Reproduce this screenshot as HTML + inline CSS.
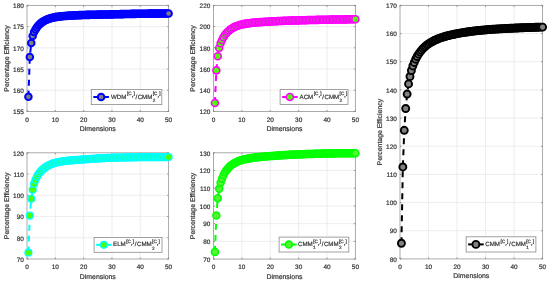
<!DOCTYPE html>
<html lang="en"><head><meta charset="utf-8"><title>Percentage Efficiency vs Dimensions</title>
<style>html,body{margin:0;padding:0;background:#fff;}body{width:550px;height:282px;overflow:hidden;}svg{display:block;will-change:transform;filter:blur(0.3px);}text{font-family:"Liberation Sans", sans-serif;fill:#3a3a3a;stroke:#3a3a3a;stroke-width:0.22px;text-rendering:geometricPrecision;}</style></head><body>
<svg width="550" height="282" viewBox="0 0 550 282">
<rect x="0" y="0" width="550" height="282" fill="#ffffff"/>
<g>
<path d="M55.32 5.40V111.50M83.64 5.40V111.50M111.96 5.40V111.50M140.28 5.40V111.50M27.00 90.28H168.60M27.00 69.06H168.60M27.00 47.84H168.60M27.00 26.62H168.60" stroke="#e9e9e9" stroke-width="0.8" fill="none"/>
<rect x="27.00" y="5.40" width="141.60" height="106.10" fill="none" stroke="#a2a2a2" stroke-width="0.9"/>
<path d="M27.00 111.50v-1.50M27.00 5.40v1.50M55.32 111.50v-1.50M55.32 5.40v1.50M83.64 111.50v-1.50M83.64 5.40v1.50M111.96 111.50v-1.50M111.96 5.40v1.50M140.28 111.50v-1.50M140.28 5.40v1.50M168.60 111.50v-1.50M168.60 5.40v1.50M27.00 111.50h1.50M168.60 111.50h-1.50M27.00 90.28h1.50M168.60 90.28h-1.50M27.00 69.06h1.50M168.60 69.06h-1.50M27.00 47.84h1.50M168.60 47.84h-1.50M27.00 26.62h1.50M168.60 26.62h-1.50M27.00 5.40h1.50M168.60 5.40h-1.50" stroke="#808080" stroke-width="0.8" fill="none"/>
<text x="27.00" y="121.80" font-size="6.45" text-anchor="middle">0</text>
<text x="55.32" y="121.80" font-size="6.45" text-anchor="middle">10</text>
<text x="83.64" y="121.80" font-size="6.45" text-anchor="middle">20</text>
<text x="111.96" y="121.80" font-size="6.45" text-anchor="middle">30</text>
<text x="140.28" y="121.80" font-size="6.45" text-anchor="middle">40</text>
<text x="168.60" y="121.80" font-size="6.45" text-anchor="middle">50</text>
<text x="23.80" y="114.25" font-size="6.45" text-anchor="end">155</text>
<text x="23.80" y="93.03" font-size="6.45" text-anchor="end">160</text>
<text x="23.80" y="71.81" font-size="6.45" text-anchor="end">165</text>
<text x="23.80" y="50.59" font-size="6.45" text-anchor="end">170</text>
<text x="23.80" y="29.37" font-size="6.45" text-anchor="end">175</text>
<text x="23.80" y="8.15" font-size="6.45" text-anchor="end">180</text>
<text x="97.80" y="131.00" font-size="6.90" text-anchor="middle">Dimensions</text>
<text transform="translate(8.50 58.45) rotate(-90)" font-size="6.90" text-anchor="middle">Percentage Efficiency</text>
<polyline points="28.42,96.68 29.83,57.07 31.25,43.03 32.66,35.95 34.08,32.05 35.50,29.56 36.91,27.34 38.33,25.57 39.74,24.11 41.16,22.90 42.58,21.87 43.99,20.99 45.41,20.24 46.82,19.59 48.24,19.03 49.66,18.54 51.07,18.12 52.49,17.75 53.90,17.43 55.32,17.15 56.74,16.91 58.15,16.69 59.57,16.51 60.98,16.34 62.40,16.20 63.82,16.06 65.23,15.94 66.65,15.84 68.06,15.74 69.48,15.65 70.90,15.56 72.31,15.49 73.73,15.42 75.14,15.35 76.56,15.28 77.98,15.22 79.39,15.17 80.81,15.11 82.22,15.06 83.64,15.01 85.06,14.96 86.47,14.91 87.89,14.87 89.30,14.84 90.72,14.80 92.14,14.77 93.55,14.74 94.97,14.71 96.38,14.68 97.80,14.65 99.22,14.63 100.63,14.60 102.05,14.57 103.46,14.54 104.88,14.51 106.30,14.49 107.71,14.46 109.13,14.43 110.54,14.39 111.96,14.36 113.38,14.33 114.79,14.30 116.21,14.26 117.62,14.23 119.04,14.19 120.46,14.16 121.87,14.12 123.29,14.09 124.70,14.06 126.12,14.03 127.54,13.99 128.95,13.96 130.37,13.94 131.78,13.91 133.20,13.88 134.62,13.86 136.03,13.83 137.45,13.81 138.86,13.79 140.28,13.77 141.70,13.75 143.11,13.73 144.53,13.71 145.94,13.70 147.36,13.68 148.78,13.67 150.19,13.65 151.61,13.64 153.02,13.63 154.44,13.62 155.86,13.60 157.27,13.59 158.69,13.58 160.10,13.57 161.52,13.56 162.94,13.56 164.35,13.55 165.77,13.54 167.18,13.53 168.60,13.53" fill="none" stroke="#0000ff" stroke-width="2" stroke-dasharray="6 5"/>
<g fill="#808080" stroke="#0000ff" stroke-width="2.00">
<circle cx="28.42" cy="96.68" r="3.30"/>
<circle cx="29.83" cy="57.07" r="3.30"/>
<circle cx="31.25" cy="43.03" r="3.30"/>
<circle cx="32.66" cy="35.95" r="3.30"/>
<circle cx="34.08" cy="32.05" r="3.30"/>
<circle cx="35.50" cy="29.56" r="3.30"/>
<circle cx="36.91" cy="27.34" r="3.30"/>
<circle cx="38.33" cy="25.57" r="3.30"/>
<circle cx="39.74" cy="24.11" r="3.30"/>
<circle cx="41.16" cy="22.90" r="3.30"/>
<circle cx="42.58" cy="21.87" r="3.30"/>
<circle cx="43.99" cy="20.99" r="3.30"/>
<circle cx="45.41" cy="20.24" r="3.30"/>
<circle cx="46.82" cy="19.59" r="3.30"/>
<circle cx="48.24" cy="19.03" r="3.30"/>
<circle cx="49.66" cy="18.54" r="3.30"/>
<circle cx="51.07" cy="18.12" r="3.30"/>
<circle cx="52.49" cy="17.75" r="3.30"/>
<circle cx="53.90" cy="17.43" r="3.30"/>
<circle cx="55.32" cy="17.15" r="3.30"/>
<circle cx="56.74" cy="16.91" r="3.30"/>
<circle cx="58.15" cy="16.69" r="3.30"/>
<circle cx="59.57" cy="16.51" r="3.30"/>
<circle cx="60.98" cy="16.34" r="3.30"/>
<circle cx="62.40" cy="16.20" r="3.30"/>
<circle cx="63.82" cy="16.06" r="3.30"/>
<circle cx="65.23" cy="15.94" r="3.30"/>
<circle cx="66.65" cy="15.84" r="3.30"/>
<circle cx="68.06" cy="15.74" r="3.30"/>
<circle cx="69.48" cy="15.65" r="3.30"/>
<circle cx="70.90" cy="15.56" r="3.30"/>
<circle cx="72.31" cy="15.49" r="3.30"/>
<circle cx="73.73" cy="15.42" r="3.30"/>
<circle cx="75.14" cy="15.35" r="3.30"/>
<circle cx="76.56" cy="15.28" r="3.30"/>
<circle cx="77.98" cy="15.22" r="3.30"/>
<circle cx="79.39" cy="15.17" r="3.30"/>
<circle cx="80.81" cy="15.11" r="3.30"/>
<circle cx="82.22" cy="15.06" r="3.30"/>
<circle cx="83.64" cy="15.01" r="3.30"/>
<circle cx="85.06" cy="14.96" r="3.30"/>
<circle cx="86.47" cy="14.91" r="3.30"/>
<circle cx="87.89" cy="14.87" r="3.30"/>
<circle cx="89.30" cy="14.84" r="3.30"/>
<circle cx="90.72" cy="14.80" r="3.30"/>
<circle cx="92.14" cy="14.77" r="3.30"/>
<circle cx="93.55" cy="14.74" r="3.30"/>
<circle cx="94.97" cy="14.71" r="3.30"/>
<circle cx="96.38" cy="14.68" r="3.30"/>
<circle cx="97.80" cy="14.65" r="3.30"/>
<circle cx="99.22" cy="14.63" r="3.30"/>
<circle cx="100.63" cy="14.60" r="3.30"/>
<circle cx="102.05" cy="14.57" r="3.30"/>
<circle cx="103.46" cy="14.54" r="3.30"/>
<circle cx="104.88" cy="14.51" r="3.30"/>
<circle cx="106.30" cy="14.49" r="3.30"/>
<circle cx="107.71" cy="14.46" r="3.30"/>
<circle cx="109.13" cy="14.43" r="3.30"/>
<circle cx="110.54" cy="14.39" r="3.30"/>
<circle cx="111.96" cy="14.36" r="3.30"/>
<circle cx="113.38" cy="14.33" r="3.30"/>
<circle cx="114.79" cy="14.30" r="3.30"/>
<circle cx="116.21" cy="14.26" r="3.30"/>
<circle cx="117.62" cy="14.23" r="3.30"/>
<circle cx="119.04" cy="14.19" r="3.30"/>
<circle cx="120.46" cy="14.16" r="3.30"/>
<circle cx="121.87" cy="14.12" r="3.30"/>
<circle cx="123.29" cy="14.09" r="3.30"/>
<circle cx="124.70" cy="14.06" r="3.30"/>
<circle cx="126.12" cy="14.03" r="3.30"/>
<circle cx="127.54" cy="13.99" r="3.30"/>
<circle cx="128.95" cy="13.96" r="3.30"/>
<circle cx="130.37" cy="13.94" r="3.30"/>
<circle cx="131.78" cy="13.91" r="3.30"/>
<circle cx="133.20" cy="13.88" r="3.30"/>
<circle cx="134.62" cy="13.86" r="3.30"/>
<circle cx="136.03" cy="13.83" r="3.30"/>
<circle cx="137.45" cy="13.81" r="3.30"/>
<circle cx="138.86" cy="13.79" r="3.30"/>
<circle cx="140.28" cy="13.77" r="3.30"/>
<circle cx="141.70" cy="13.75" r="3.30"/>
<circle cx="143.11" cy="13.73" r="3.30"/>
<circle cx="144.53" cy="13.71" r="3.30"/>
<circle cx="145.94" cy="13.70" r="3.30"/>
<circle cx="147.36" cy="13.68" r="3.30"/>
<circle cx="148.78" cy="13.67" r="3.30"/>
<circle cx="150.19" cy="13.65" r="3.30"/>
<circle cx="151.61" cy="13.64" r="3.30"/>
<circle cx="153.02" cy="13.63" r="3.30"/>
<circle cx="154.44" cy="13.62" r="3.30"/>
<circle cx="155.86" cy="13.60" r="3.30"/>
<circle cx="157.27" cy="13.59" r="3.30"/>
<circle cx="158.69" cy="13.58" r="3.30"/>
<circle cx="160.10" cy="13.57" r="3.30"/>
<circle cx="161.52" cy="13.56" r="3.30"/>
<circle cx="162.94" cy="13.56" r="3.30"/>
<circle cx="164.35" cy="13.55" r="3.30"/>
<circle cx="165.77" cy="13.54" r="3.30"/>
<circle cx="167.18" cy="13.53" r="3.30"/>
<circle cx="168.60" cy="13.53" r="3.30"/>
</g>
<rect x="91.30" y="89.40" width="70.50" height="15.20" fill="#ffffff" stroke="#8a8a8a" stroke-width="0.8"/>
<line x1="93.30" y1="97.00" x2="108.90" y2="97.00" stroke="#0000ff" stroke-width="2"/>
<circle cx="101.10" cy="97.00" r="3.30" fill="#808080" stroke="#0000ff" stroke-width="2.00"/>
<text x="111.05" y="98.60" font-size="6.15" fill="#1a1a1a" stroke="#1a1a1a" stroke-width="0.2">WDM<tspan font-size="4.70" dx="0.5" dy="-3.2">[C</tspan><tspan font-size="3.6" dx="0.3" dy="2.9">r</tspan><tspan font-size="4.70" dx="0.3" dy="-2.9">]</tspan><tspan dx="0.75" dy="3.2">/</tspan><tspan dx="0.5">CMM</tspan><tspan font-size="4.70" dx="0.3" dy="3.1">2</tspan><tspan font-size="4.70" dy="-6.3" dx="-2.5">[C</tspan><tspan font-size="3.6" dx="0.3" dy="2.9">r</tspan><tspan font-size="4.70" dx="0.3" dy="-2.9">]</tspan></text>
</g>
<g>
<path d="M241.88 5.40V111.50M270.26 5.40V111.50M298.64 5.40V111.50M327.02 5.40V111.50M213.50 90.28H355.40M213.50 69.06H355.40M213.50 47.84H355.40M213.50 26.62H355.40" stroke="#e9e9e9" stroke-width="0.8" fill="none"/>
<rect x="213.50" y="5.40" width="141.90" height="106.10" fill="none" stroke="#a2a2a2" stroke-width="0.9"/>
<path d="M213.50 111.50v-1.50M213.50 5.40v1.50M241.88 111.50v-1.50M241.88 5.40v1.50M270.26 111.50v-1.50M270.26 5.40v1.50M298.64 111.50v-1.50M298.64 5.40v1.50M327.02 111.50v-1.50M327.02 5.40v1.50M355.40 111.50v-1.50M355.40 5.40v1.50M213.50 111.50h1.50M355.40 111.50h-1.50M213.50 90.28h1.50M355.40 90.28h-1.50M213.50 69.06h1.50M355.40 69.06h-1.50M213.50 47.84h1.50M355.40 47.84h-1.50M213.50 26.62h1.50M355.40 26.62h-1.50M213.50 5.40h1.50M355.40 5.40h-1.50" stroke="#808080" stroke-width="0.8" fill="none"/>
<text x="213.50" y="121.80" font-size="6.45" text-anchor="middle">0</text>
<text x="241.88" y="121.80" font-size="6.45" text-anchor="middle">10</text>
<text x="270.26" y="121.80" font-size="6.45" text-anchor="middle">20</text>
<text x="298.64" y="121.80" font-size="6.45" text-anchor="middle">30</text>
<text x="327.02" y="121.80" font-size="6.45" text-anchor="middle">40</text>
<text x="355.40" y="121.80" font-size="6.45" text-anchor="middle">50</text>
<text x="210.30" y="114.25" font-size="6.45" text-anchor="end">120</text>
<text x="210.30" y="93.03" font-size="6.45" text-anchor="end">140</text>
<text x="210.30" y="71.81" font-size="6.45" text-anchor="end">160</text>
<text x="210.30" y="50.59" font-size="6.45" text-anchor="end">180</text>
<text x="210.30" y="29.37" font-size="6.45" text-anchor="end">200</text>
<text x="210.30" y="8.15" font-size="6.45" text-anchor="end">220</text>
<text x="284.45" y="131.00" font-size="6.90" text-anchor="middle">Dimensions</text>
<text transform="translate(195.00 58.45) rotate(-90)" font-size="6.90" text-anchor="middle">Percentage Efficiency</text>
<polyline points="214.92,103.00 216.34,70.37 217.76,56.16 219.18,48.04 220.59,43.29 222.01,39.97 223.43,37.22 224.85,35.01 226.27,33.20 227.69,31.70 229.11,30.42 230.53,29.34 231.95,28.40 233.37,27.59 234.78,26.88 236.20,26.27 237.62,25.72 239.04,25.25 240.46,24.83 241.88,24.46 243.30,24.14 244.72,23.86 246.14,23.61 247.56,23.39 248.97,23.19 250.39,23.01 251.81,22.85 253.23,22.70 254.65,22.57 256.07,22.44 257.49,22.32 258.91,22.21 260.33,22.11 261.75,22.01 263.16,21.92 264.58,21.83 266.00,21.74 267.42,21.65 268.84,21.57 270.26,21.49 271.68,21.41 273.10,21.34 274.52,21.26 275.94,21.20 277.36,21.13 278.77,21.07 280.19,21.01 281.61,20.95 283.03,20.89 284.45,20.84 285.87,20.79 287.29,20.74 288.71,20.69 290.13,20.64 291.54,20.59 292.96,20.54 294.38,20.50 295.80,20.45 297.22,20.40 298.64,20.36 300.06,20.32 301.48,20.27 302.90,20.23 304.32,20.19 305.74,20.15 307.15,20.12 308.57,20.08 309.99,20.04 311.41,20.01 312.83,19.97 314.25,19.94 315.67,19.91 317.09,19.88 318.51,19.85 319.92,19.82 321.34,19.79 322.76,19.76 324.18,19.73 325.60,19.70 327.02,19.68 328.44,19.65 329.86,19.63 331.28,19.60 332.70,19.58 334.12,19.55 335.53,19.53 336.95,19.51 338.37,19.49 339.79,19.46 341.21,19.44 342.63,19.42 344.05,19.40 345.47,19.38 346.89,19.36 348.30,19.34 349.72,19.33 351.14,19.31 352.56,19.29 353.98,19.27 355.40,19.26" fill="none" stroke="#ff00ff" stroke-width="2" stroke-dasharray="6 5"/>
<g fill="#4dff00" stroke="#ff00ff" stroke-width="1.55">
<circle cx="214.92" cy="103.00" r="3.50"/>
<circle cx="216.34" cy="70.37" r="3.50"/>
<circle cx="217.76" cy="56.16" r="3.50"/>
<circle cx="219.18" cy="48.04" r="3.50"/>
<circle cx="220.59" cy="43.29" r="3.50"/>
<circle cx="222.01" cy="39.97" r="3.50"/>
<circle cx="223.43" cy="37.22" r="3.50"/>
<circle cx="224.85" cy="35.01" r="3.50"/>
<circle cx="226.27" cy="33.20" r="3.50"/>
<circle cx="227.69" cy="31.70" r="3.50"/>
<circle cx="229.11" cy="30.42" r="3.50"/>
<circle cx="230.53" cy="29.34" r="3.50"/>
<circle cx="231.95" cy="28.40" r="3.50"/>
<circle cx="233.37" cy="27.59" r="3.50"/>
<circle cx="234.78" cy="26.88" r="3.50"/>
<circle cx="236.20" cy="26.27" r="3.50"/>
<circle cx="237.62" cy="25.72" r="3.50"/>
<circle cx="239.04" cy="25.25" r="3.50"/>
<circle cx="240.46" cy="24.83" r="3.50"/>
<circle cx="241.88" cy="24.46" r="3.50"/>
<circle cx="243.30" cy="24.14" r="3.50"/>
<circle cx="244.72" cy="23.86" r="3.50"/>
<circle cx="246.14" cy="23.61" r="3.50"/>
<circle cx="247.56" cy="23.39" r="3.50"/>
<circle cx="248.97" cy="23.19" r="3.50"/>
<circle cx="250.39" cy="23.01" r="3.50"/>
<circle cx="251.81" cy="22.85" r="3.50"/>
<circle cx="253.23" cy="22.70" r="3.50"/>
<circle cx="254.65" cy="22.57" r="3.50"/>
<circle cx="256.07" cy="22.44" r="3.50"/>
<circle cx="257.49" cy="22.32" r="3.50"/>
<circle cx="258.91" cy="22.21" r="3.50"/>
<circle cx="260.33" cy="22.11" r="3.50"/>
<circle cx="261.75" cy="22.01" r="3.50"/>
<circle cx="263.16" cy="21.92" r="3.50"/>
<circle cx="264.58" cy="21.83" r="3.50"/>
<circle cx="266.00" cy="21.74" r="3.50"/>
<circle cx="267.42" cy="21.65" r="3.50"/>
<circle cx="268.84" cy="21.57" r="3.50"/>
<circle cx="270.26" cy="21.49" r="3.50"/>
<circle cx="271.68" cy="21.41" r="3.50"/>
<circle cx="273.10" cy="21.34" r="3.50"/>
<circle cx="274.52" cy="21.26" r="3.50"/>
<circle cx="275.94" cy="21.20" r="3.50"/>
<circle cx="277.36" cy="21.13" r="3.50"/>
<circle cx="278.77" cy="21.07" r="3.50"/>
<circle cx="280.19" cy="21.01" r="3.50"/>
<circle cx="281.61" cy="20.95" r="3.50"/>
<circle cx="283.03" cy="20.89" r="3.50"/>
<circle cx="284.45" cy="20.84" r="3.50"/>
<circle cx="285.87" cy="20.79" r="3.50"/>
<circle cx="287.29" cy="20.74" r="3.50"/>
<circle cx="288.71" cy="20.69" r="3.50"/>
<circle cx="290.13" cy="20.64" r="3.50"/>
<circle cx="291.54" cy="20.59" r="3.50"/>
<circle cx="292.96" cy="20.54" r="3.50"/>
<circle cx="294.38" cy="20.50" r="3.50"/>
<circle cx="295.80" cy="20.45" r="3.50"/>
<circle cx="297.22" cy="20.40" r="3.50"/>
<circle cx="298.64" cy="20.36" r="3.50"/>
<circle cx="300.06" cy="20.32" r="3.50"/>
<circle cx="301.48" cy="20.27" r="3.50"/>
<circle cx="302.90" cy="20.23" r="3.50"/>
<circle cx="304.32" cy="20.19" r="3.50"/>
<circle cx="305.74" cy="20.15" r="3.50"/>
<circle cx="307.15" cy="20.12" r="3.50"/>
<circle cx="308.57" cy="20.08" r="3.50"/>
<circle cx="309.99" cy="20.04" r="3.50"/>
<circle cx="311.41" cy="20.01" r="3.50"/>
<circle cx="312.83" cy="19.97" r="3.50"/>
<circle cx="314.25" cy="19.94" r="3.50"/>
<circle cx="315.67" cy="19.91" r="3.50"/>
<circle cx="317.09" cy="19.88" r="3.50"/>
<circle cx="318.51" cy="19.85" r="3.50"/>
<circle cx="319.92" cy="19.82" r="3.50"/>
<circle cx="321.34" cy="19.79" r="3.50"/>
<circle cx="322.76" cy="19.76" r="3.50"/>
<circle cx="324.18" cy="19.73" r="3.50"/>
<circle cx="325.60" cy="19.70" r="3.50"/>
<circle cx="327.02" cy="19.68" r="3.50"/>
<circle cx="328.44" cy="19.65" r="3.50"/>
<circle cx="329.86" cy="19.63" r="3.50"/>
<circle cx="331.28" cy="19.60" r="3.50"/>
<circle cx="332.70" cy="19.58" r="3.50"/>
<circle cx="334.12" cy="19.55" r="3.50"/>
<circle cx="335.53" cy="19.53" r="3.50"/>
<circle cx="336.95" cy="19.51" r="3.50"/>
<circle cx="338.37" cy="19.49" r="3.50"/>
<circle cx="339.79" cy="19.46" r="3.50"/>
<circle cx="341.21" cy="19.44" r="3.50"/>
<circle cx="342.63" cy="19.42" r="3.50"/>
<circle cx="344.05" cy="19.40" r="3.50"/>
<circle cx="345.47" cy="19.38" r="3.50"/>
<circle cx="346.89" cy="19.36" r="3.50"/>
<circle cx="348.30" cy="19.34" r="3.50"/>
<circle cx="349.72" cy="19.33" r="3.50"/>
<circle cx="351.14" cy="19.31" r="3.50"/>
<circle cx="352.56" cy="19.29" r="3.50"/>
<circle cx="353.98" cy="19.27" r="3.50"/>
<circle cx="355.40" cy="19.26" r="3.50"/>
</g>
<rect x="280.10" y="89.60" width="67.90" height="14.90" fill="#ffffff" stroke="#8a8a8a" stroke-width="0.8"/>
<line x1="282.10" y1="97.05" x2="297.70" y2="97.05" stroke="#ff00ff" stroke-width="2"/>
<circle cx="289.90" cy="97.05" r="3.50" fill="#4dff00" stroke="#ff00ff" stroke-width="1.55"/>
<text x="299.60" y="98.65" font-size="6.15" fill="#1a1a1a" stroke="#1a1a1a" stroke-width="0.2">ACM<tspan font-size="4.70" dx="0.5" dy="-3.2">[C</tspan><tspan font-size="3.6" dx="0.3" dy="2.9">r</tspan><tspan font-size="4.70" dx="0.3" dy="-2.9">]</tspan><tspan dx="0.75" dy="3.2">/</tspan><tspan dx="0.5">CMM</tspan><tspan font-size="4.70" dx="0.3" dy="3.1">2</tspan><tspan font-size="4.70" dy="-6.3" dx="-2.5">[C</tspan><tspan font-size="3.6" dx="0.3" dy="2.9">r</tspan><tspan font-size="4.70" dx="0.3" dy="-2.9">]</tspan></text>
</g>
<g>
<path d="M55.32 152.80V259.00M83.64 152.80V259.00M111.96 152.80V259.00M140.28 152.80V259.00M27.00 237.76H168.60M27.00 216.52H168.60M27.00 195.28H168.60M27.00 174.04H168.60" stroke="#e9e9e9" stroke-width="0.8" fill="none"/>
<rect x="27.00" y="152.80" width="141.60" height="106.20" fill="none" stroke="#a2a2a2" stroke-width="0.9"/>
<path d="M27.00 259.00v-1.50M27.00 152.80v1.50M55.32 259.00v-1.50M55.32 152.80v1.50M83.64 259.00v-1.50M83.64 152.80v1.50M111.96 259.00v-1.50M111.96 152.80v1.50M140.28 259.00v-1.50M140.28 152.80v1.50M168.60 259.00v-1.50M168.60 152.80v1.50M27.00 259.00h1.50M168.60 259.00h-1.50M27.00 237.76h1.50M168.60 237.76h-1.50M27.00 216.52h1.50M168.60 216.52h-1.50M27.00 195.28h1.50M168.60 195.28h-1.50M27.00 174.04h1.50M168.60 174.04h-1.50M27.00 152.80h1.50M168.60 152.80h-1.50" stroke="#808080" stroke-width="0.8" fill="none"/>
<text x="27.00" y="269.30" font-size="6.45" text-anchor="middle">0</text>
<text x="55.32" y="269.30" font-size="6.45" text-anchor="middle">10</text>
<text x="83.64" y="269.30" font-size="6.45" text-anchor="middle">20</text>
<text x="111.96" y="269.30" font-size="6.45" text-anchor="middle">30</text>
<text x="140.28" y="269.30" font-size="6.45" text-anchor="middle">40</text>
<text x="168.60" y="269.30" font-size="6.45" text-anchor="middle">50</text>
<text x="23.80" y="261.75" font-size="6.45" text-anchor="end">70</text>
<text x="23.80" y="240.51" font-size="6.45" text-anchor="end">80</text>
<text x="23.80" y="219.27" font-size="6.45" text-anchor="end">90</text>
<text x="23.80" y="198.03" font-size="6.45" text-anchor="end">100</text>
<text x="23.80" y="176.79" font-size="6.45" text-anchor="end">110</text>
<text x="23.80" y="155.55" font-size="6.45" text-anchor="end">120</text>
<text x="97.80" y="278.50" font-size="6.90" text-anchor="middle">Dimensions</text>
<text transform="translate(8.50 205.90) rotate(-90)" font-size="6.90" text-anchor="middle">Percentage Efficiency</text>
<polyline points="28.42,252.65 29.83,215.53 31.25,198.79 32.66,189.77 34.08,183.81 35.50,179.88 36.91,176.78 38.33,174.40 39.74,172.50 41.16,170.95 42.58,169.62 43.99,168.43 45.41,167.38 46.82,166.45 48.24,165.62 49.66,164.89 51.07,164.25 52.49,163.70 53.90,163.21 55.32,162.80 56.74,162.44 58.15,162.12 59.57,161.85 60.98,161.61 62.40,161.39 63.82,161.20 65.23,161.02 66.65,160.86 68.06,160.71 69.48,160.57 70.90,160.44 72.31,160.31 73.73,160.20 75.14,160.08 76.56,159.97 77.98,159.86 79.39,159.76 80.81,159.65 82.22,159.55 83.64,159.45 85.06,159.34 86.47,159.24 87.89,159.14 89.30,159.03 90.72,158.93 92.14,158.83 93.55,158.73 94.97,158.63 96.38,158.54 97.80,158.45 99.22,158.36 100.63,158.28 102.05,158.20 103.46,158.13 104.88,158.06 106.30,157.99 107.71,157.93 109.13,157.87 110.54,157.82 111.96,157.77 113.38,157.72 114.79,157.68 116.21,157.64 117.62,157.60 119.04,157.57 120.46,157.54 121.87,157.51 123.29,157.48 124.70,157.46 126.12,157.43 127.54,157.41 128.95,157.39 130.37,157.37 131.78,157.35 133.20,157.33 134.62,157.32 136.03,157.30 137.45,157.28 138.86,157.27 140.28,157.25 141.70,157.24 143.11,157.22 144.53,157.21 145.94,157.20 147.36,157.19 148.78,157.18 150.19,157.17 151.61,157.17 153.02,157.16 154.44,157.15 155.86,157.15 157.27,157.14 158.69,157.14 160.10,157.13 161.52,157.13 162.94,157.13 164.35,157.13 165.77,157.12 167.18,157.12 168.60,157.12" fill="none" stroke="#00ffff" stroke-width="2" stroke-dasharray="6 5"/>
<g fill="#4dff00" stroke="#00ffff" stroke-width="1.40">
<circle cx="28.42" cy="252.65" r="3.40"/>
<circle cx="29.83" cy="215.53" r="3.40"/>
<circle cx="31.25" cy="198.79" r="3.40"/>
<circle cx="32.66" cy="189.77" r="3.40"/>
<circle cx="34.08" cy="183.81" r="3.40"/>
<circle cx="35.50" cy="179.88" r="3.40"/>
<circle cx="36.91" cy="176.78" r="3.40"/>
<circle cx="38.33" cy="174.40" r="3.40"/>
<circle cx="39.74" cy="172.50" r="3.40"/>
<circle cx="41.16" cy="170.95" r="3.40"/>
<circle cx="42.58" cy="169.62" r="3.40"/>
<circle cx="43.99" cy="168.43" r="3.40"/>
<circle cx="45.41" cy="167.38" r="3.40"/>
<circle cx="46.82" cy="166.45" r="3.40"/>
<circle cx="48.24" cy="165.62" r="3.40"/>
<circle cx="49.66" cy="164.89" r="3.40"/>
<circle cx="51.07" cy="164.25" r="3.40"/>
<circle cx="52.49" cy="163.70" r="3.40"/>
<circle cx="53.90" cy="163.21" r="3.40"/>
<circle cx="55.32" cy="162.80" r="3.40"/>
<circle cx="56.74" cy="162.44" r="3.40"/>
<circle cx="58.15" cy="162.12" r="3.40"/>
<circle cx="59.57" cy="161.85" r="3.40"/>
<circle cx="60.98" cy="161.61" r="3.40"/>
<circle cx="62.40" cy="161.39" r="3.40"/>
<circle cx="63.82" cy="161.20" r="3.40"/>
<circle cx="65.23" cy="161.02" r="3.40"/>
<circle cx="66.65" cy="160.86" r="3.40"/>
<circle cx="68.06" cy="160.71" r="3.40"/>
<circle cx="69.48" cy="160.57" r="3.40"/>
<circle cx="70.90" cy="160.44" r="3.40"/>
<circle cx="72.31" cy="160.31" r="3.40"/>
<circle cx="73.73" cy="160.20" r="3.40"/>
<circle cx="75.14" cy="160.08" r="3.40"/>
<circle cx="76.56" cy="159.97" r="3.40"/>
<circle cx="77.98" cy="159.86" r="3.40"/>
<circle cx="79.39" cy="159.76" r="3.40"/>
<circle cx="80.81" cy="159.65" r="3.40"/>
<circle cx="82.22" cy="159.55" r="3.40"/>
<circle cx="83.64" cy="159.45" r="3.40"/>
<circle cx="85.06" cy="159.34" r="3.40"/>
<circle cx="86.47" cy="159.24" r="3.40"/>
<circle cx="87.89" cy="159.14" r="3.40"/>
<circle cx="89.30" cy="159.03" r="3.40"/>
<circle cx="90.72" cy="158.93" r="3.40"/>
<circle cx="92.14" cy="158.83" r="3.40"/>
<circle cx="93.55" cy="158.73" r="3.40"/>
<circle cx="94.97" cy="158.63" r="3.40"/>
<circle cx="96.38" cy="158.54" r="3.40"/>
<circle cx="97.80" cy="158.45" r="3.40"/>
<circle cx="99.22" cy="158.36" r="3.40"/>
<circle cx="100.63" cy="158.28" r="3.40"/>
<circle cx="102.05" cy="158.20" r="3.40"/>
<circle cx="103.46" cy="158.13" r="3.40"/>
<circle cx="104.88" cy="158.06" r="3.40"/>
<circle cx="106.30" cy="157.99" r="3.40"/>
<circle cx="107.71" cy="157.93" r="3.40"/>
<circle cx="109.13" cy="157.87" r="3.40"/>
<circle cx="110.54" cy="157.82" r="3.40"/>
<circle cx="111.96" cy="157.77" r="3.40"/>
<circle cx="113.38" cy="157.72" r="3.40"/>
<circle cx="114.79" cy="157.68" r="3.40"/>
<circle cx="116.21" cy="157.64" r="3.40"/>
<circle cx="117.62" cy="157.60" r="3.40"/>
<circle cx="119.04" cy="157.57" r="3.40"/>
<circle cx="120.46" cy="157.54" r="3.40"/>
<circle cx="121.87" cy="157.51" r="3.40"/>
<circle cx="123.29" cy="157.48" r="3.40"/>
<circle cx="124.70" cy="157.46" r="3.40"/>
<circle cx="126.12" cy="157.43" r="3.40"/>
<circle cx="127.54" cy="157.41" r="3.40"/>
<circle cx="128.95" cy="157.39" r="3.40"/>
<circle cx="130.37" cy="157.37" r="3.40"/>
<circle cx="131.78" cy="157.35" r="3.40"/>
<circle cx="133.20" cy="157.33" r="3.40"/>
<circle cx="134.62" cy="157.32" r="3.40"/>
<circle cx="136.03" cy="157.30" r="3.40"/>
<circle cx="137.45" cy="157.28" r="3.40"/>
<circle cx="138.86" cy="157.27" r="3.40"/>
<circle cx="140.28" cy="157.25" r="3.40"/>
<circle cx="141.70" cy="157.24" r="3.40"/>
<circle cx="143.11" cy="157.22" r="3.40"/>
<circle cx="144.53" cy="157.21" r="3.40"/>
<circle cx="145.94" cy="157.20" r="3.40"/>
<circle cx="147.36" cy="157.19" r="3.40"/>
<circle cx="148.78" cy="157.18" r="3.40"/>
<circle cx="150.19" cy="157.17" r="3.40"/>
<circle cx="151.61" cy="157.17" r="3.40"/>
<circle cx="153.02" cy="157.16" r="3.40"/>
<circle cx="154.44" cy="157.15" r="3.40"/>
<circle cx="155.86" cy="157.15" r="3.40"/>
<circle cx="157.27" cy="157.14" r="3.40"/>
<circle cx="158.69" cy="157.14" r="3.40"/>
<circle cx="160.10" cy="157.13" r="3.40"/>
<circle cx="161.52" cy="157.13" r="3.40"/>
<circle cx="162.94" cy="157.13" r="3.40"/>
<circle cx="164.35" cy="157.13" r="3.40"/>
<circle cx="165.77" cy="157.12" r="3.40"/>
<circle cx="167.18" cy="157.12" r="3.40"/>
<circle cx="168.60" cy="157.12" r="3.40"/>
</g>
<rect x="94.10" y="237.40" width="67.90" height="14.90" fill="#ffffff" stroke="#8a8a8a" stroke-width="0.8"/>
<line x1="96.10" y1="244.85" x2="111.70" y2="244.85" stroke="#00ffff" stroke-width="2"/>
<circle cx="103.90" cy="244.85" r="3.40" fill="#4dff00" stroke="#00ffff" stroke-width="1.40"/>
<text x="113.10" y="246.45" font-size="6.15" fill="#1a1a1a" stroke="#1a1a1a" stroke-width="0.2">ELM<tspan font-size="4.70" dx="0.5" dy="-3.2">[C</tspan><tspan font-size="3.6" dx="0.3" dy="2.9">r</tspan><tspan font-size="4.70" dx="0.3" dy="-2.9">]</tspan><tspan dx="0.75" dy="3.2">/</tspan><tspan dx="0.5">CMM</tspan><tspan font-size="4.70" dx="0.3" dy="3.1">2</tspan><tspan font-size="4.70" dy="-6.3" dx="-2.5">[C</tspan><tspan font-size="3.6" dx="0.3" dy="2.9">r</tspan><tspan font-size="4.70" dx="0.3" dy="-2.9">]</tspan></text>
</g>
<g>
<path d="M241.88 152.80V259.10M270.26 152.80V259.10M298.64 152.80V259.10M327.02 152.80V259.10M213.50 241.38H355.40M213.50 223.67H355.40M213.50 205.95H355.40M213.50 188.23H355.40M213.50 170.52H355.40" stroke="#e9e9e9" stroke-width="0.8" fill="none"/>
<rect x="213.50" y="152.80" width="141.90" height="106.30" fill="none" stroke="#a2a2a2" stroke-width="0.9"/>
<path d="M213.50 259.10v-1.50M213.50 152.80v1.50M241.88 259.10v-1.50M241.88 152.80v1.50M270.26 259.10v-1.50M270.26 152.80v1.50M298.64 259.10v-1.50M298.64 152.80v1.50M327.02 259.10v-1.50M327.02 152.80v1.50M355.40 259.10v-1.50M355.40 152.80v1.50M213.50 259.10h1.50M355.40 259.10h-1.50M213.50 241.38h1.50M355.40 241.38h-1.50M213.50 223.67h1.50M355.40 223.67h-1.50M213.50 205.95h1.50M355.40 205.95h-1.50M213.50 188.23h1.50M355.40 188.23h-1.50M213.50 170.52h1.50M355.40 170.52h-1.50M213.50 152.80h1.50M355.40 152.80h-1.50" stroke="#808080" stroke-width="0.8" fill="none"/>
<text x="213.50" y="269.40" font-size="6.45" text-anchor="middle">0</text>
<text x="241.88" y="269.40" font-size="6.45" text-anchor="middle">10</text>
<text x="270.26" y="269.40" font-size="6.45" text-anchor="middle">20</text>
<text x="298.64" y="269.40" font-size="6.45" text-anchor="middle">30</text>
<text x="327.02" y="269.40" font-size="6.45" text-anchor="middle">40</text>
<text x="355.40" y="269.40" font-size="6.45" text-anchor="middle">50</text>
<text x="210.30" y="261.85" font-size="6.45" text-anchor="end">70</text>
<text x="210.30" y="244.13" font-size="6.45" text-anchor="end">80</text>
<text x="210.30" y="226.42" font-size="6.45" text-anchor="end">90</text>
<text x="210.30" y="208.70" font-size="6.45" text-anchor="end">100</text>
<text x="210.30" y="190.98" font-size="6.45" text-anchor="end">110</text>
<text x="210.30" y="173.27" font-size="6.45" text-anchor="end">120</text>
<text x="210.30" y="155.55" font-size="6.45" text-anchor="end">130</text>
<text x="284.45" y="278.60" font-size="6.90" text-anchor="middle">Dimensions</text>
<text transform="translate(195.00 205.95) rotate(-90)" font-size="6.90" text-anchor="middle">Percentage Efficiency</text>
<polyline points="214.92,251.89 216.34,215.44 217.76,198.15 219.18,188.81 220.59,182.70 222.01,178.64 223.43,175.27 224.85,172.61 226.27,170.44 227.69,168.64 229.11,167.12 230.53,165.83 231.95,164.72 233.37,163.76 234.78,162.92 236.20,162.18 237.62,161.53 239.04,160.95 240.46,160.44 241.88,159.99 243.30,159.59 244.72,159.24 246.14,158.92 247.56,158.64 248.97,158.39 250.39,158.16 251.81,157.96 253.23,157.77 254.65,157.59 256.07,157.42 257.49,157.27 258.91,157.12 260.33,156.98 261.75,156.85 263.16,156.72 264.58,156.59 266.00,156.47 267.42,156.35 268.84,156.23 270.26,156.11 271.68,155.99 273.10,155.88 274.52,155.77 275.94,155.67 277.36,155.57 278.77,155.47 280.19,155.37 281.61,155.28 283.03,155.19 284.45,155.10 285.87,155.02 287.29,154.94 288.71,154.86 290.13,154.78 291.54,154.71 292.96,154.64 294.38,154.58 295.80,154.51 297.22,154.45 298.64,154.39 300.06,154.34 301.48,154.28 302.90,154.23 304.32,154.17 305.74,154.12 307.15,154.08 308.57,154.03 309.99,153.98 311.41,153.94 312.83,153.89 314.25,153.85 315.67,153.81 317.09,153.77 318.51,153.73 319.92,153.69 321.34,153.66 322.76,153.62 324.18,153.59 325.60,153.56 327.02,153.52 328.44,153.49 329.86,153.47 331.28,153.44 332.70,153.41 334.12,153.39 335.53,153.37 336.95,153.35 338.37,153.33 339.79,153.31 341.21,153.29 342.63,153.28 344.05,153.26 345.47,153.25 346.89,153.23 348.30,153.22 349.72,153.21 351.14,153.19 352.56,153.18 353.98,153.17 355.40,153.16" fill="none" stroke="#00ff00" stroke-width="2" stroke-dasharray="6 5"/>
<g fill="#55f533" stroke="#00ff00" stroke-width="1.60">
<circle cx="214.92" cy="251.89" r="3.45"/>
<circle cx="216.34" cy="215.44" r="3.45"/>
<circle cx="217.76" cy="198.15" r="3.45"/>
<circle cx="219.18" cy="188.81" r="3.45"/>
<circle cx="220.59" cy="182.70" r="3.45"/>
<circle cx="222.01" cy="178.64" r="3.45"/>
<circle cx="223.43" cy="175.27" r="3.45"/>
<circle cx="224.85" cy="172.61" r="3.45"/>
<circle cx="226.27" cy="170.44" r="3.45"/>
<circle cx="227.69" cy="168.64" r="3.45"/>
<circle cx="229.11" cy="167.12" r="3.45"/>
<circle cx="230.53" cy="165.83" r="3.45"/>
<circle cx="231.95" cy="164.72" r="3.45"/>
<circle cx="233.37" cy="163.76" r="3.45"/>
<circle cx="234.78" cy="162.92" r="3.45"/>
<circle cx="236.20" cy="162.18" r="3.45"/>
<circle cx="237.62" cy="161.53" r="3.45"/>
<circle cx="239.04" cy="160.95" r="3.45"/>
<circle cx="240.46" cy="160.44" r="3.45"/>
<circle cx="241.88" cy="159.99" r="3.45"/>
<circle cx="243.30" cy="159.59" r="3.45"/>
<circle cx="244.72" cy="159.24" r="3.45"/>
<circle cx="246.14" cy="158.92" r="3.45"/>
<circle cx="247.56" cy="158.64" r="3.45"/>
<circle cx="248.97" cy="158.39" r="3.45"/>
<circle cx="250.39" cy="158.16" r="3.45"/>
<circle cx="251.81" cy="157.96" r="3.45"/>
<circle cx="253.23" cy="157.77" r="3.45"/>
<circle cx="254.65" cy="157.59" r="3.45"/>
<circle cx="256.07" cy="157.42" r="3.45"/>
<circle cx="257.49" cy="157.27" r="3.45"/>
<circle cx="258.91" cy="157.12" r="3.45"/>
<circle cx="260.33" cy="156.98" r="3.45"/>
<circle cx="261.75" cy="156.85" r="3.45"/>
<circle cx="263.16" cy="156.72" r="3.45"/>
<circle cx="264.58" cy="156.59" r="3.45"/>
<circle cx="266.00" cy="156.47" r="3.45"/>
<circle cx="267.42" cy="156.35" r="3.45"/>
<circle cx="268.84" cy="156.23" r="3.45"/>
<circle cx="270.26" cy="156.11" r="3.45"/>
<circle cx="271.68" cy="155.99" r="3.45"/>
<circle cx="273.10" cy="155.88" r="3.45"/>
<circle cx="274.52" cy="155.77" r="3.45"/>
<circle cx="275.94" cy="155.67" r="3.45"/>
<circle cx="277.36" cy="155.57" r="3.45"/>
<circle cx="278.77" cy="155.47" r="3.45"/>
<circle cx="280.19" cy="155.37" r="3.45"/>
<circle cx="281.61" cy="155.28" r="3.45"/>
<circle cx="283.03" cy="155.19" r="3.45"/>
<circle cx="284.45" cy="155.10" r="3.45"/>
<circle cx="285.87" cy="155.02" r="3.45"/>
<circle cx="287.29" cy="154.94" r="3.45"/>
<circle cx="288.71" cy="154.86" r="3.45"/>
<circle cx="290.13" cy="154.78" r="3.45"/>
<circle cx="291.54" cy="154.71" r="3.45"/>
<circle cx="292.96" cy="154.64" r="3.45"/>
<circle cx="294.38" cy="154.58" r="3.45"/>
<circle cx="295.80" cy="154.51" r="3.45"/>
<circle cx="297.22" cy="154.45" r="3.45"/>
<circle cx="298.64" cy="154.39" r="3.45"/>
<circle cx="300.06" cy="154.34" r="3.45"/>
<circle cx="301.48" cy="154.28" r="3.45"/>
<circle cx="302.90" cy="154.23" r="3.45"/>
<circle cx="304.32" cy="154.17" r="3.45"/>
<circle cx="305.74" cy="154.12" r="3.45"/>
<circle cx="307.15" cy="154.08" r="3.45"/>
<circle cx="308.57" cy="154.03" r="3.45"/>
<circle cx="309.99" cy="153.98" r="3.45"/>
<circle cx="311.41" cy="153.94" r="3.45"/>
<circle cx="312.83" cy="153.89" r="3.45"/>
<circle cx="314.25" cy="153.85" r="3.45"/>
<circle cx="315.67" cy="153.81" r="3.45"/>
<circle cx="317.09" cy="153.77" r="3.45"/>
<circle cx="318.51" cy="153.73" r="3.45"/>
<circle cx="319.92" cy="153.69" r="3.45"/>
<circle cx="321.34" cy="153.66" r="3.45"/>
<circle cx="322.76" cy="153.62" r="3.45"/>
<circle cx="324.18" cy="153.59" r="3.45"/>
<circle cx="325.60" cy="153.56" r="3.45"/>
<circle cx="327.02" cy="153.52" r="3.45"/>
<circle cx="328.44" cy="153.49" r="3.45"/>
<circle cx="329.86" cy="153.47" r="3.45"/>
<circle cx="331.28" cy="153.44" r="3.45"/>
<circle cx="332.70" cy="153.41" r="3.45"/>
<circle cx="334.12" cy="153.39" r="3.45"/>
<circle cx="335.53" cy="153.37" r="3.45"/>
<circle cx="336.95" cy="153.35" r="3.45"/>
<circle cx="338.37" cy="153.33" r="3.45"/>
<circle cx="339.79" cy="153.31" r="3.45"/>
<circle cx="341.21" cy="153.29" r="3.45"/>
<circle cx="342.63" cy="153.28" r="3.45"/>
<circle cx="344.05" cy="153.26" r="3.45"/>
<circle cx="345.47" cy="153.25" r="3.45"/>
<circle cx="346.89" cy="153.23" r="3.45"/>
<circle cx="348.30" cy="153.22" r="3.45"/>
<circle cx="349.72" cy="153.21" r="3.45"/>
<circle cx="351.14" cy="153.19" r="3.45"/>
<circle cx="352.56" cy="153.18" r="3.45"/>
<circle cx="353.98" cy="153.17" r="3.45"/>
<circle cx="355.40" cy="153.16" r="3.45"/>
</g>
<rect x="279.10" y="237.10" width="69.70" height="14.90" fill="#ffffff" stroke="#8a8a8a" stroke-width="0.8"/>
<line x1="281.10" y1="244.55" x2="296.70" y2="244.55" stroke="#00ff00" stroke-width="2"/>
<circle cx="288.90" cy="244.55" r="3.45" fill="#55f533" stroke="#00ff00" stroke-width="1.60"/>
<text x="298.07" y="246.15" font-size="6.15" fill="#1a1a1a" stroke="#1a1a1a" stroke-width="0.2">CMM<tspan font-size="4.70" dx="0.3" dy="3.1">1</tspan><tspan font-size="4.70" dy="-6.3" dx="-2.5">[C</tspan><tspan font-size="3.6" dx="0.3" dy="2.9">r</tspan><tspan font-size="4.70" dx="0.3" dy="-2.9">]</tspan><tspan dx="0.75" dy="3.2">/</tspan><tspan dx="0.5">CMM</tspan><tspan font-size="4.70" dx="0.3" dy="3.1">2</tspan><tspan font-size="4.70" dy="-6.3" dx="-2.5">[C</tspan><tspan font-size="3.6" dx="0.3" dy="2.9">r</tspan><tspan font-size="4.70" dx="0.3" dy="-2.9">]</tspan></text>
</g>
<g>
<path d="M428.52 5.40V258.90M457.04 5.40V258.90M485.56 5.40V258.90M514.08 5.40V258.90M400.00 230.73H542.60M400.00 202.57H542.60M400.00 174.40H542.60M400.00 146.23H542.60M400.00 118.07H542.60M400.00 89.90H542.60M400.00 61.73H542.60M400.00 33.57H542.60" stroke="#e9e9e9" stroke-width="0.8" fill="none"/>
<rect x="400.00" y="5.40" width="142.60" height="253.50" fill="none" stroke="#a2a2a2" stroke-width="0.9"/>
<path d="M400.00 258.90v-1.50M400.00 5.40v1.50M428.52 258.90v-1.50M428.52 5.40v1.50M457.04 258.90v-1.50M457.04 5.40v1.50M485.56 258.90v-1.50M485.56 5.40v1.50M514.08 258.90v-1.50M514.08 5.40v1.50M542.60 258.90v-1.50M542.60 5.40v1.50M400.00 258.90h1.50M542.60 258.90h-1.50M400.00 230.73h1.50M542.60 230.73h-1.50M400.00 202.57h1.50M542.60 202.57h-1.50M400.00 174.40h1.50M542.60 174.40h-1.50M400.00 146.23h1.50M542.60 146.23h-1.50M400.00 118.07h1.50M542.60 118.07h-1.50M400.00 89.90h1.50M542.60 89.90h-1.50M400.00 61.73h1.50M542.60 61.73h-1.50M400.00 33.57h1.50M542.60 33.57h-1.50M400.00 5.40h1.50M542.60 5.40h-1.50" stroke="#808080" stroke-width="0.8" fill="none"/>
<text x="400.00" y="269.20" font-size="6.45" text-anchor="middle">0</text>
<text x="428.52" y="269.20" font-size="6.45" text-anchor="middle">10</text>
<text x="457.04" y="269.20" font-size="6.45" text-anchor="middle">20</text>
<text x="485.56" y="269.20" font-size="6.45" text-anchor="middle">30</text>
<text x="514.08" y="269.20" font-size="6.45" text-anchor="middle">40</text>
<text x="542.60" y="269.20" font-size="6.45" text-anchor="middle">50</text>
<text x="396.80" y="261.65" font-size="6.45" text-anchor="end">80</text>
<text x="396.80" y="233.48" font-size="6.45" text-anchor="end">90</text>
<text x="396.80" y="205.32" font-size="6.45" text-anchor="end">100</text>
<text x="396.80" y="177.15" font-size="6.45" text-anchor="end">110</text>
<text x="396.80" y="148.98" font-size="6.45" text-anchor="end">120</text>
<text x="396.80" y="120.82" font-size="6.45" text-anchor="end">130</text>
<text x="396.80" y="92.65" font-size="6.45" text-anchor="end">140</text>
<text x="396.80" y="64.48" font-size="6.45" text-anchor="end">150</text>
<text x="396.80" y="36.32" font-size="6.45" text-anchor="end">160</text>
<text x="396.80" y="8.15" font-size="6.45" text-anchor="end">170</text>
<text x="471.30" y="278.40" font-size="6.90" text-anchor="middle">Dimensions</text>
<text transform="translate(381.50 132.15) rotate(-90)" font-size="6.90" text-anchor="middle">Percentage Efficiency</text>
<polyline points="401.43,243.23 402.85,166.94 404.28,130.31 405.70,108.51 407.13,94.03 408.56,83.89 409.98,76.51 411.41,70.52 412.83,65.95 414.26,62.43 415.69,59.21 417.11,56.48 418.54,54.13 419.96,52.09 421.39,50.30 422.82,48.72 424.24,47.31 425.67,46.05 427.09,44.91 428.52,43.88 429.95,42.94 431.37,42.08 432.80,41.29 434.22,40.57 435.65,39.90 437.08,39.27 438.50,38.70 439.93,38.15 441.35,37.65 442.78,37.17 444.21,36.73 445.63,36.31 447.06,35.91 448.48,35.54 449.91,35.19 451.34,34.85 452.76,34.53 454.19,34.23 455.61,33.94 457.04,33.66 458.47,33.40 459.89,33.14 461.32,32.89 462.74,32.65 464.17,32.42 465.60,32.20 467.02,31.98 468.45,31.78 469.87,31.58 471.30,31.39 472.73,31.20 474.15,31.03 475.58,30.86 477.00,30.69 478.43,30.54 479.86,30.39 481.28,30.25 482.71,30.11 484.13,29.98 485.56,29.86 486.99,29.74 488.41,29.63 489.84,29.52 491.26,29.42 492.69,29.31 494.12,29.22 495.54,29.12 496.97,29.03 498.39,28.94 499.82,28.86 501.25,28.77 502.67,28.69 504.10,28.61 505.52,28.53 506.95,28.46 508.38,28.39 509.80,28.32 511.23,28.25 512.65,28.18 514.08,28.11 515.51,28.05 516.93,27.99 518.36,27.93 519.78,27.87 521.21,27.81 522.64,27.75 524.06,27.70 525.49,27.65 526.91,27.59 528.34,27.54 529.77,27.49 531.19,27.44 532.62,27.40 534.04,27.35 535.47,27.30 536.90,27.26 538.32,27.22 539.75,27.17 541.17,27.13 542.60,27.09" fill="none" stroke="#000000" stroke-width="2" stroke-dasharray="6 5"/>
<g fill="#808080" stroke="#000000" stroke-width="1.90">
<circle cx="401.43" cy="243.23" r="3.50"/>
<circle cx="402.85" cy="166.94" r="3.50"/>
<circle cx="404.28" cy="130.31" r="3.50"/>
<circle cx="405.70" cy="108.51" r="3.50"/>
<circle cx="407.13" cy="94.03" r="3.50"/>
<circle cx="408.56" cy="83.89" r="3.50"/>
<circle cx="409.98" cy="76.51" r="3.50"/>
<circle cx="411.41" cy="70.52" r="3.50"/>
<circle cx="412.83" cy="65.95" r="3.50"/>
<circle cx="414.26" cy="62.43" r="3.50"/>
<circle cx="415.69" cy="59.21" r="3.50"/>
<circle cx="417.11" cy="56.48" r="3.50"/>
<circle cx="418.54" cy="54.13" r="3.50"/>
<circle cx="419.96" cy="52.09" r="3.50"/>
<circle cx="421.39" cy="50.30" r="3.50"/>
<circle cx="422.82" cy="48.72" r="3.50"/>
<circle cx="424.24" cy="47.31" r="3.50"/>
<circle cx="425.67" cy="46.05" r="3.50"/>
<circle cx="427.09" cy="44.91" r="3.50"/>
<circle cx="428.52" cy="43.88" r="3.50"/>
<circle cx="429.95" cy="42.94" r="3.50"/>
<circle cx="431.37" cy="42.08" r="3.50"/>
<circle cx="432.80" cy="41.29" r="3.50"/>
<circle cx="434.22" cy="40.57" r="3.50"/>
<circle cx="435.65" cy="39.90" r="3.50"/>
<circle cx="437.08" cy="39.27" r="3.50"/>
<circle cx="438.50" cy="38.70" r="3.50"/>
<circle cx="439.93" cy="38.15" r="3.50"/>
<circle cx="441.35" cy="37.65" r="3.50"/>
<circle cx="442.78" cy="37.17" r="3.50"/>
<circle cx="444.21" cy="36.73" r="3.50"/>
<circle cx="445.63" cy="36.31" r="3.50"/>
<circle cx="447.06" cy="35.91" r="3.50"/>
<circle cx="448.48" cy="35.54" r="3.50"/>
<circle cx="449.91" cy="35.19" r="3.50"/>
<circle cx="451.34" cy="34.85" r="3.50"/>
<circle cx="452.76" cy="34.53" r="3.50"/>
<circle cx="454.19" cy="34.23" r="3.50"/>
<circle cx="455.61" cy="33.94" r="3.50"/>
<circle cx="457.04" cy="33.66" r="3.50"/>
<circle cx="458.47" cy="33.40" r="3.50"/>
<circle cx="459.89" cy="33.14" r="3.50"/>
<circle cx="461.32" cy="32.89" r="3.50"/>
<circle cx="462.74" cy="32.65" r="3.50"/>
<circle cx="464.17" cy="32.42" r="3.50"/>
<circle cx="465.60" cy="32.20" r="3.50"/>
<circle cx="467.02" cy="31.98" r="3.50"/>
<circle cx="468.45" cy="31.78" r="3.50"/>
<circle cx="469.87" cy="31.58" r="3.50"/>
<circle cx="471.30" cy="31.39" r="3.50"/>
<circle cx="472.73" cy="31.20" r="3.50"/>
<circle cx="474.15" cy="31.03" r="3.50"/>
<circle cx="475.58" cy="30.86" r="3.50"/>
<circle cx="477.00" cy="30.69" r="3.50"/>
<circle cx="478.43" cy="30.54" r="3.50"/>
<circle cx="479.86" cy="30.39" r="3.50"/>
<circle cx="481.28" cy="30.25" r="3.50"/>
<circle cx="482.71" cy="30.11" r="3.50"/>
<circle cx="484.13" cy="29.98" r="3.50"/>
<circle cx="485.56" cy="29.86" r="3.50"/>
<circle cx="486.99" cy="29.74" r="3.50"/>
<circle cx="488.41" cy="29.63" r="3.50"/>
<circle cx="489.84" cy="29.52" r="3.50"/>
<circle cx="491.26" cy="29.42" r="3.50"/>
<circle cx="492.69" cy="29.31" r="3.50"/>
<circle cx="494.12" cy="29.22" r="3.50"/>
<circle cx="495.54" cy="29.12" r="3.50"/>
<circle cx="496.97" cy="29.03" r="3.50"/>
<circle cx="498.39" cy="28.94" r="3.50"/>
<circle cx="499.82" cy="28.86" r="3.50"/>
<circle cx="501.25" cy="28.77" r="3.50"/>
<circle cx="502.67" cy="28.69" r="3.50"/>
<circle cx="504.10" cy="28.61" r="3.50"/>
<circle cx="505.52" cy="28.53" r="3.50"/>
<circle cx="506.95" cy="28.46" r="3.50"/>
<circle cx="508.38" cy="28.39" r="3.50"/>
<circle cx="509.80" cy="28.32" r="3.50"/>
<circle cx="511.23" cy="28.25" r="3.50"/>
<circle cx="512.65" cy="28.18" r="3.50"/>
<circle cx="514.08" cy="28.11" r="3.50"/>
<circle cx="515.51" cy="28.05" r="3.50"/>
<circle cx="516.93" cy="27.99" r="3.50"/>
<circle cx="518.36" cy="27.93" r="3.50"/>
<circle cx="519.78" cy="27.87" r="3.50"/>
<circle cx="521.21" cy="27.81" r="3.50"/>
<circle cx="522.64" cy="27.75" r="3.50"/>
<circle cx="524.06" cy="27.70" r="3.50"/>
<circle cx="525.49" cy="27.65" r="3.50"/>
<circle cx="526.91" cy="27.59" r="3.50"/>
<circle cx="528.34" cy="27.54" r="3.50"/>
<circle cx="529.77" cy="27.49" r="3.50"/>
<circle cx="531.19" cy="27.44" r="3.50"/>
<circle cx="532.62" cy="27.40" r="3.50"/>
<circle cx="534.04" cy="27.35" r="3.50"/>
<circle cx="535.47" cy="27.30" r="3.50"/>
<circle cx="536.90" cy="27.26" r="3.50"/>
<circle cx="538.32" cy="27.22" r="3.50"/>
<circle cx="539.75" cy="27.17" r="3.50"/>
<circle cx="541.17" cy="27.13" r="3.50"/>
<circle cx="542.60" cy="27.09" r="3.50"/>
</g>
<rect x="466.10" y="236.80" width="69.80" height="15.20" fill="#ffffff" stroke="#8a8a8a" stroke-width="0.8"/>
<line x1="468.10" y1="244.40" x2="483.70" y2="244.40" stroke="#000000" stroke-width="2"/>
<circle cx="475.90" cy="244.40" r="3.50" fill="#808080" stroke="#000000" stroke-width="1.90"/>
<text x="485.30" y="246.00" font-size="6.15" fill="#1a1a1a" stroke="#1a1a1a" stroke-width="0.2">CMM<tspan font-size="4.70" dx="0.5" dy="-3.2">[C</tspan><tspan font-size="3.6" dx="0.3" dy="2.9">r</tspan><tspan font-size="4.70" dx="0.3" dy="-2.9">]</tspan><tspan dx="0.75" dy="3.2">/</tspan><tspan dx="0.5">CMM</tspan><tspan font-size="4.70" dx="0.3" dy="3.1">1</tspan><tspan font-size="4.70" dy="-6.3" dx="-2.5">[C</tspan><tspan font-size="3.6" dx="0.3" dy="2.9">r</tspan><tspan font-size="4.70" dx="0.3" dy="-2.9">]</tspan></text>
</g>
</svg></body></html>
